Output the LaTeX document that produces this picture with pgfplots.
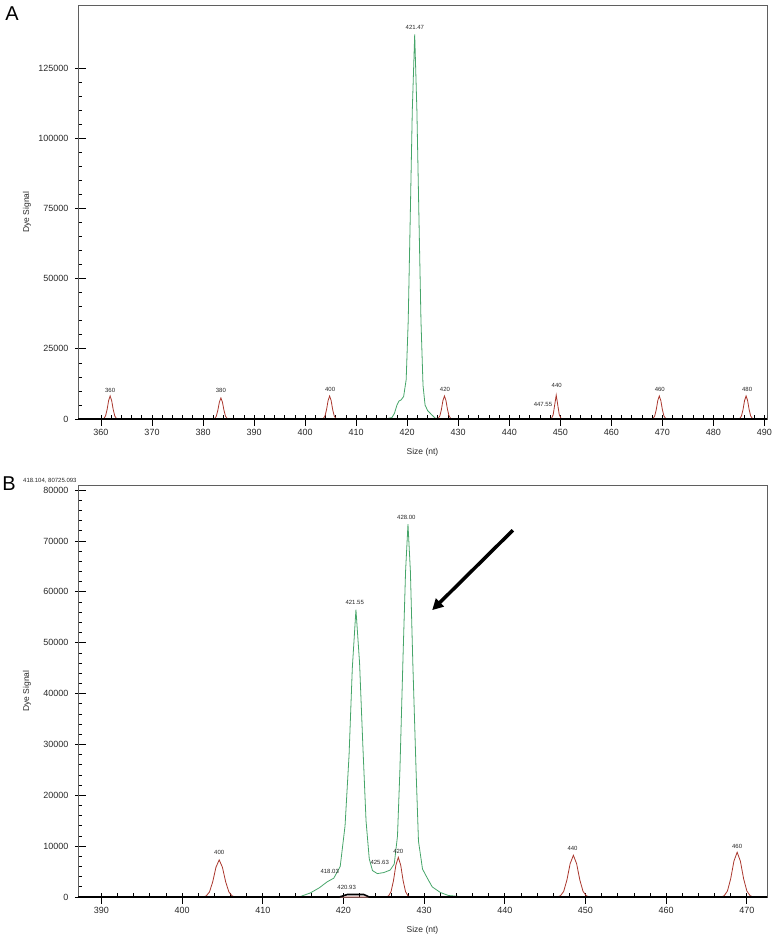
\documentclass[border=0pt]{standalone}
\usepackage{fontspec}
\setmainfont{Liberation Sans}
\usepackage{pgfplots}
\pgfplotsset{compat=1.18}
\usetikzlibrary{arrows.meta}
\definecolor{clrFrame}{RGB}{95,95,95}
\definecolor{clrGreen}{RGB}{70,165,105}
\definecolor{clrRed}{RGB}{170,55,45}
\definecolor{clrText}{RGB}{40,40,40}

\tikzset{peak/.style={font=\fontsize{6}{7}\selectfont,color=clrText,inner sep=0.5pt}}
\pgfplotsset{
  ce/.style={
    scale only axis,
    anchor=south west,
    clip=false,
    axis line style={clrFrame,line width=0.9pt},
    tick align=inside,
    xtick pos=lower, ytick pos=left,
    major tick length=11pt, minor tick length=4pt,
    tick style={black,line width=0.7pt},
    major x tick style={yshift=-7pt},
    major y tick style={xshift=-3pt},
    minor x tick num=4, minor y tick num=4,
    scaled y ticks=false,
    ticklabel style={font=\fontsize{9}{10}\selectfont,color=clrText},
    xticklabel style={yshift=-7pt},
    yticklabel style={xshift=-6pt},
    xlabel={Size (nt)}, ylabel={Dye Signal},
    label style={font=\fontsize{8.5}{9}\selectfont,color=clrText},
    xlabel style={at={(axis description cs:0.5,0)},anchor=center,yshift=-33pt},
    ylabel style={at={(axis description cs:0,0.5)},anchor=center,yshift=51pt},
  }
}

\begin{document}
\begin{tikzpicture}[x=1pt,y=1pt]
\useasboundingbox (0,0) rectangle (777,934);

% ---- panel A
\begin{axis}[ce, at={(78pt,515pt)}, width=689pt, height=414pt,
  xmin=355.5, xmax=490.5, ymin=0, ymax=147500,
  xtick={360,370,...,490},
  xticklabels={360,370,380,390,400,410,420,430,440,450,460,470,480,490},
  ytick={0,25000,50000,75000,100000,125000},
  yticklabels={0,25000,50000,75000,100000,125000}]
% size standard (red)
\addplot[clrRed,line width=0.8pt] coordinates {
  (355.5,0)
  (360.3,0)(360.6,250)(360.9,1100)(361.2,3350)(361.5,6550)(361.8,8200)(362.1,6550)(362.4,3350)(362.7,1100)(363.0,250)(363.3,0)
  (382.0,0)(382.3,220)(382.6,1000)(382.9,3100)(383.2,6000)(383.5,7500)(383.8,6000)(384.1,3100)(384.4,1000)(384.7,220)(385.0,0)
  (403.3,0)(403.6,250)(403.9,1100)(404.2,3350)(404.5,6550)(404.8,8200)(405.1,6550)(405.4,3350)(405.7,1100)(406.0,250)(406.3,0)
  (425.8,0)(426.1,250)(426.4,1100)(426.7,3350)(427.0,6550)(427.3,8200)(427.6,6550)(427.9,3350)(428.2,1100)(428.5,250)(428.8,0)
  (448.2,0)(448.6,1500)(448.9,5000)(449.2,8500)(449.5,5000)(449.8,1500)(450.2,0)
  (467.9,0)(468.2,250)(468.5,1100)(468.8,3350)(469.1,6550)(469.4,8200)(469.7,6550)(470.0,3350)(470.3,1100)(470.6,250)(470.9,0)
  (484.9,0)(485.2,250)(485.5,1100)(485.8,3350)(486.1,6550)(486.4,8200)(486.7,6550)(487.0,3350)(487.3,1100)(487.6,250)(487.9,0)
  (490.5,0)
};
% sample (green)
\addplot[clrGreen,line width=0.8pt] coordinates {
  (414.0,0)(416.0,100)(417.0,500)(417.5,2000)(418.0,5000)(418.4,6400)(418.8,6800)
  (419.3,8000)(419.8,14000)(420.2,35000)(420.6,72000)(421.0,110000)(421.47,137000)
  (421.9,110000)(422.3,72000)(422.7,35000)(423.1,12000)(423.5,5000)(424.0,3000)
  (424.8,1500)(425.5,300)(427.0,0)
};
% baseline (black)
\addplot[black,line width=2pt] coordinates {(355.5,0)(490.5,0)};
\node[peak] at (axis cs:361.8,10300) {360};
\node[peak] at (axis cs:383.5,10000) {380};
\node[peak] at (axis cs:404.9,10700) {400};
\node[peak] at (axis cs:421.5,139600) {421.47};
\node[peak] at (axis cs:427.4,10700) {420};
\node[peak] at (axis cs:449.3,11800) {440};
\node[peak] at (axis cs:446.6,5300) {447.55};
\node[peak] at (axis cs:469.5,10700) {460};
\node[peak] at (axis cs:486.6,10700) {480};
\end{axis}
\node[font=\fontsize{20}{20}\selectfont] at (12,920) {A};

% ---- panel B
\begin{axis}[ce, at={(78pt,37pt)}, width=689pt, height=412pt,
  xmin=387.1, xmax=472.5, ymin=0, ymax=81000,
  xtick={390,400,...,470},
  xticklabels={390,400,410,420,430,440,450,460,470},
  ytick={0,10000,20000,30000,40000,50000,60000,70000,80000},
  yticklabels={0,10000,20000,30000,40000,50000,60000,70000,80000}]
\addplot[clrRed,line width=0.8pt] coordinates {
  (387.1,0)
  (402.6,0)(403.0,220)(403.4,1000)(403.8,3000)(404.2,5850)(404.6,7300)(405.0,5850)(405.4,3000)(405.8,1000)(406.2,220)(406.6,0)
  (425.3,0)(425.6,230)(425.9,1050)(426.2,3200)(426.5,6250)(426.8,7800)(427.1,6250)(427.4,3200)(427.7,1050)(428.0,230)(428.3,0)
  (446.5,0)(446.9,250)(447.3,1100)(447.7,3350)(448.1,6550)(448.5,8200)(448.9,6550)(449.3,3350)(449.7,1100)(450.1,250)(450.5,0)
  (466.8,0)(467.2,260)(467.6,1200)(468.0,3600)(468.4,7050)(468.8,8800)(469.2,7050)(469.6,3600)(470.0,1200)(470.4,260)(470.8,0)
  (472.5,0)
};
\addplot[clrGreen,line width=0.8pt] coordinates {
  (414.5,0)(415.9,800)(417.0,1800)(418.0,3000)(418.8,3700)(419.6,6000)(420.2,14000)
  (420.7,28000)(421.1,45000)(421.55,56500)(422.0,46000)(422.4,30000)(422.8,15000)
  (423.2,7500)(423.6,5200)(424.2,4600)(425.0,4800)(425.8,5300)(426.3,6500)
  (426.7,12000)(427.0,25000)(427.4,48000)(427.7,64000)(428.0,73300)(428.3,64000)
  (428.6,46000)(429.0,25000)(429.3,11000)(429.8,5500)(430.4,3700)(431.0,2000)
  (432.0,900)(433.0,300)(435.0,0)
};
\addplot[black,line width=1.6pt] coordinates {(387.1,0)(419.5,0)(420.5,500)(422.5,500)(423.2,0)(472.5,0)};
\node[peak] at (axis cs:404.6,8840) {400};
\node[peak] at (axis cs:421.4,57900) {421.55};
\node[peak] at (axis cs:427.8,74600) {428.00};
\node[peak] at (axis cs:418.3,5100) {418.03};
\node[peak] at (axis cs:420.4,1800) {420.93};
\node[peak] at (axis cs:424.5,6700) {425.63};
\node[peak] at (axis cs:426.8,9000) {420};
\node[peak] at (axis cs:448.4,9600) {440};
\node[peak] at (axis cs:468.8,10000) {460};
\draw[black,line width=3.5pt,-{Triangle[length=11pt,width=11pt]}]
  (axis cs:441.0,72100) -- (axis cs:431.0,56400);
\end{axis}
\node[font=\fontsize{20}{20}\selectfont] at (9,450) {B};
\node[font=\fontsize{6}{7}\selectfont,color=clrText,fill=white,inner sep=1pt,anchor=west]
  at (22,453) {418.104, 80725.093};
\end{tikzpicture}
\end{document}
